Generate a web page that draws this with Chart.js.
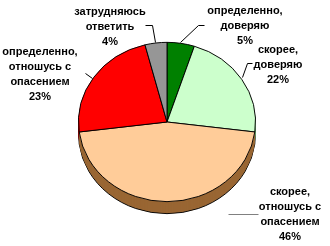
<!DOCTYPE html>
<html>
<head>
<meta charset="utf-8">
<script src="https://cdn.jsdelivr.net/npm/chart.js@4.4.0/dist/chart.umd.min.js"></script>
<style>
  html, body { margin: 0; padding: 0; background: #fff; }
  #c { display: block; }
</style>
</head>
<body>
<canvas id="c" width="330" height="246"></canvas>
<script>
// data, clockwise from the top
const categories = [
  "определенно, доверяю",
  "скорее, доверяю",
  "скорее, отношусь с опасением",
  "определенно, отношусь с опасением",
  "затрудняюсь ответить"
];
const shares = [5, 22, 46, 23, 4];
const labelLines = [
  ["определенно,", "доверяю"],
  ["скорее,", "доверяю"],
  ["скорее,", "отношусь с", "опасением"],
  ["определенно,", "отношусь с", "опасением"],
  ["затрудняюсь", "ответить"]
];

const topColors = ["#008000", "#CCFFCC", "#FFCC99", "#FF0000", "#969696"];
const sideColors = ["#004000", "#669966", "#996633", "#800000", "#4b4b4b"];

// label placement (centre x, first line y) and leader lines
const labelPos = [[245, 11], [278, 50], [290, 192], [40, 52], [110, 12]];
const leaders = [
  { pts: [[204, 25], [198, 25], [180, 42]], color: "#000" },
  { pts: [[252, 63], [247, 63], [242, 77]], color: "#000" },
  { pts: [[228, 214], [258, 214]], color: "#808080" },
  { pts: [[85, 73], [92, 78]], color: "#000" },
  { pts: [[145, 25], [152, 25], [155, 42]], color: "#000" }
];

const TILT = 0.9;
const DEPTH = 12;

const tiltPlugin = {
  id: "tilt3d",
  beforeDatasetsDraw(chart) {
    const ctx = chart.ctx;
    const meta = chart.getDatasetMeta(0);
    const cy = meta.data[0].y;
    ctx.save();
    ctx.translate(0, cy);
    ctx.scale(1, TILT);
    ctx.translate(0, -cy);
    // side of the cake
    for (let d = DEPTH; d >= 1; d--) {
      ctx.save();
      ctx.translate(0, d / TILT);
      meta.data.forEach((arc, i) => {
        const opts = arc.options;
        arc.options = Object.assign({}, opts, {
          backgroundColor: sideColors[i],
          borderColor: d === DEPTH ? "#000" : sideColors[i],
          borderWidth: d === DEPTH ? 1 : 0
        });
        arc.draw(ctx);
        arc.options = opts;
      });
      ctx.restore();
    }
  },
  afterDatasetsDraw(chart) {
    const ctx = chart.ctx;
    ctx.restore();

    ctx.save();
    leaders.forEach(l => {
      ctx.strokeStyle = l.color;
      ctx.lineWidth = 1;
      ctx.beginPath();
      l.pts.forEach((p, k) => k ? ctx.lineTo(p[0] + 0.5, p[1] + 0.5) : ctx.moveTo(p[0] + 0.5, p[1] + 0.5));
      ctx.stroke();
    });

    ctx.fillStyle = "#000";
    ctx.font = "bold 11px 'Liberation Sans', Arial, sans-serif";
    ctx.textAlign = "center";
    ctx.textBaseline = "middle";
    const data = chart.data.datasets[0].data;
    labelLines.forEach((lines, i) => {
      const [x, y] = labelPos[i];
      const all = lines.concat([data[i] + "%"]);
      all.forEach((t, k) => ctx.fillText(t, x, y + k * 15));
    });
    ctx.restore();
  }
};

new Chart(document.getElementById("c"), {
  type: "pie",
  data: {
    labels: categories,
    datasets: [{
      data: shares,
      backgroundColor: topColors,
      borderColor: "#000",
      borderWidth: 1
    }]
  },
  options: {
    responsive: false,
    animation: false,
    layout: { padding: { left: 78, right: 74, top: 33, bottom: 35 } },
    plugins: {
      legend: { display: false },
      tooltip: { enabled: false }
    }
  },
  plugins: [tiltPlugin]
});
</script>
</body>
</html>
